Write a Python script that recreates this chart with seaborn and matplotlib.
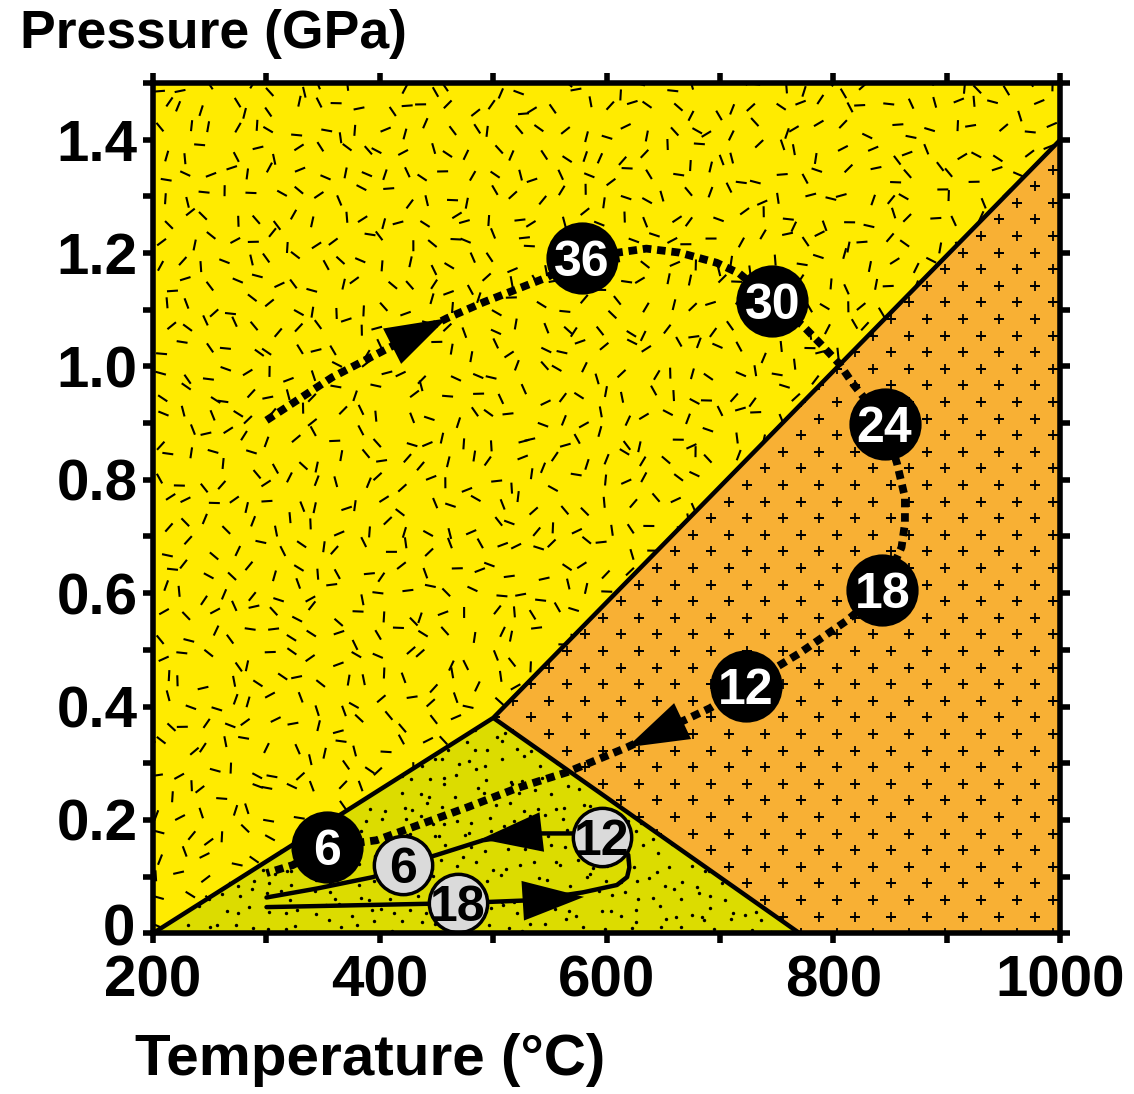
import numpy as np
import matplotlib
matplotlib.use('Agg')
import matplotlib.pyplot as plt
import matplotlib.transforms as mtrans
import seaborn as sns
from matplotlib.patches import Polygon
from matplotlib.collections import LineCollection

# ---- field polygons (T in degC, P in GPa) ----
yellow_T = [200, 500, 1000, 1000, 200]
yellow_P = [0, 0.38, 1.4, 1.5, 1.5]
orange_T = [500, 1000, 1000, 770]
orange_P = [0.38, 1.4, 0, 0]
green_T = [200, 500, 770]
green_P = [0, 0.38, 0]
bound1_T = [200, 500, 1000]
bound1_P = [0, 0.38, 1.4]
bound2_T = [500, 770]
bound2_P = [0.38, 0]

# ---- black (dashed) P-T path ----
black_T = [300, 358, 409, 459, 491, 547, 578, 635, 664, 697, 717, 746, 773, 790,
           805, 817, 845, 856, 863, 863, 860, 843, 812, 770, 723, 691, 618, 565,
           521, 477, 433, 397, 353, 323, 300]
black_P = [0.905, 0.981, 1.034, 1.085, 1.113, 1.157, 1.192, 1.208, 1.201, 1.183,
           1.164, 1.116, 1.072, 1.037, 1.005, 0.970, 0.899, 0.829, 0.769, 0.723,
           0.681, 0.605, 0.552, 0.494, 0.437, 0.397, 0.328, 0.284, 0.256, 0.222,
           0.190, 0.164, 0.152, 0.120, 0.106]
black_lab_T = [578, 746, 845, 843, 723, 353]
black_lab_P = [1.192, 1.116, 0.899, 0.605, 0.437, 0.152]
black_labels = ['36', '30', '24', '18', '12', '6']
black_arrow_tail = [(409, 1.034), (691, 0.397)]
black_arrow_tip = [(459, 1.085), (618, 0.328)]

# ---- grey (solid) P-T path ----
grey_T = [300, 469, 532, 579, 609, 618, 620, 619, 612, 596, 570, 532, 491, 450,
          420, 394, 345, 300]
grey_P = [0.046, 0.053, 0.058, 0.072, 0.085, 0.099, 0.116, 0.138, 0.153, 0.169,
          0.176, 0.176, 0.164, 0.138, 0.120, 0.099, 0.079, 0.063]
grey_lab_T = [420, 596, 469]
grey_lab_P = [0.120, 0.169, 0.053]
grey_labels = ['6', '12', '18']
grey_arrow_tail = [(532, 0.176), (532, 0.058)]
grey_arrow_tip = [(489, 0.166), (580, 0.064)]

x_ticks = [200, 400, 600, 800, 1000]
x_minor = [300, 500, 700, 900]
y_ticks = [0, 0.2, 0.4, 0.6, 0.8, 1.0, 1.2, 1.4]
y_labels = ['0', '0.2', '0.4', '0.6', '0.8', '1.0', '1.2', '1.4']
y_minor = [0.1, 0.3, 0.5, 0.7, 0.9, 1.1, 1.3, 1.5]

YELLOW = '#FFEB00'
ORANGE = '#F8B034'
GREEN = '#DCDC00'
GREY = '#DADADA'

sns.set_theme(style='ticks')
plt.rcParams['font.family'] = ['Liberation Sans', 'DejaVu Sans']
plt.rcParams['font.weight'] = 'bold'
plt.rcParams['text.color'] = 'black'
plt.rcParams['xtick.color'] = 'black'
plt.rcParams['ytick.color'] = 'black'
plt.rcParams['xtick.labelcolor'] = 'black'
plt.rcParams['ytick.labelcolor'] = 'black'

W, H, DPI = 11.34, 10.94, 100
fig = plt.figure(figsize=(W, H), dpi=DPI)
L, R, B, T = 0.135, 0.935, 0.147, 0.924
ax = fig.add_axes([L, B, R - L, T - B])
ax.set_xlim(200, 1000)
ax.set_ylim(0, 1.5)
ax_w = W * DPI * (R - L)
ax_h = H * DPI * (T - B)


def h01(a, b):
    v = np.sin(a * 12.9898 + b * 78.233) * 43758.5453
    return v - np.floor(v)


# filled fields
polys = {}
for name, tt, pp, col in [('yellow', yellow_T, yellow_P, YELLOW),
                          ('orange', orange_T, orange_P, ORANGE),
                          ('green', green_T, green_P, GREEN)]:
    poly = Polygon(np.column_stack([tt, pp]), closed=True, facecolor=col,
                   edgecolor='none', zorder=0)
    ax.add_patch(poly)
    polys[name] = poly

# texture: short dashes of any orientation in the yellow field
sp = 22.0
ii, jj = np.meshgrid(np.arange(-1, int(ax_w / sp) + 2), np.arange(-1, int(ax_h / sp) + 2))
ii = ii.ravel().astype(float)
jj = jj.ravel().astype(float)
cx = (ii + 0.5 + 0.8 * (h01(ii, jj) - 0.5)) * sp
cy = (jj + 0.5 + 0.8 * (h01(jj + 3.1, ii + 7.7) - 0.5)) * sp
ang = h01(ii * 1.7 + 2.3, jj * 0.9 + 5.1) * np.pi
ln = 5.5
segs = np.stack([np.column_stack([(cx - ln * np.cos(ang)) / ax_w, (cy - ln * np.sin(ang)) / ax_h]),
                 np.column_stack([(cx + ln * np.cos(ang)) / ax_w, (cy + ln * np.sin(ang)) / ax_h])], axis=1)
lc = LineCollection(segs, colors='black', linewidths=1.5, transform=ax.transAxes, zorder=1)
ax.add_collection(lc)
lc.set_clip_path(polys['yellow'])

# texture: dots in the green field
sp = 15.0
ii, jj = np.meshgrid(np.arange(0, int(ax_w / sp) + 1), np.arange(0, int(ax_h / sp) + 1))
ii = ii.ravel().astype(float)
jj = jj.ravel().astype(float)
dx = (ii + 0.5 + 0.9 * (h01(ii + 1.3, jj) - 0.5)) * sp / ax_w
dy = (jj + 0.5 + 0.9 * (h01(jj, ii + 4.4) - 0.5)) * sp / ax_h
dots = ax.scatter(dx, dy, s=6, c='black', linewidths=0, transform=ax.transAxes, zorder=1)
dots.set_clip_path(polys['green'])

# texture: plus signs in the orange field
rows = np.arange(0, int(ax_h / 16.6) + 2)
px, py = [], []
for r in rows:
    off = 18.0 if r % 2 else 0.0
    cols = np.arange(off, ax_w + 36, 36.0)
    px.extend(cols / ax_w)
    py.extend([r * 16.6 / ax_h] * len(cols))
plus = ax.scatter(px, py, s=42, marker='+', c='black', linewidths=1.3,
                  transform=ax.transAxes, zorder=1)
plus.set_clip_path(polys['orange'])

# field boundaries
ax.plot(bound1_T, bound1_P, color='black', lw=3.2, zorder=2, solid_capstyle='butt')
ax.plot(bound2_T, bound2_P, color='black', lw=3.2, zorder=2, solid_capstyle='butt')

# black dashed path
sns.lineplot(x=black_T, y=black_P, sort=False, color='black', lw=5.6, ax=ax, zorder=3,
             estimator=None)
ax.lines[-1].set_dashes((1.1, 0.75))
ax.lines[-1].set_dash_capstyle('butt')

# grey solid path
sns.lineplot(x=grey_T, y=grey_P, sort=False, color='black', lw=3.2, ax=ax, zorder=3,
             estimator=None)

# arrowheads
for tail, tip in list(zip(black_arrow_tail, black_arrow_tip)) + list(zip(grey_arrow_tail, grey_arrow_tip)):
    ax.annotate('', xy=tip, xytext=tail,
                arrowprops=dict(arrowstyle='-|>,head_length=1.7,head_width=0.55',
                                mutation_scale=26, color='black', lw=0,
                                shrinkA=0, shrinkB=0), zorder=4)

# labelled circles
ax.scatter(black_lab_T, black_lab_P, s=52 ** 2, c='black', linewidths=0, zorder=5)
for t, p, s in zip(black_lab_T, black_lab_P, black_labels):
    ax.text(t, p, s, color='white', fontsize=36, fontweight='bold', ha='center',
            va='center_baseline', zorder=6)
ax.scatter(grey_lab_T, grey_lab_P, s=42 ** 2, c=GREY, edgecolors='black',
           linewidths=2.5, zorder=5)
for t, p, s in zip(grey_lab_T, grey_lab_P, grey_labels):
    ax.text(t, p, s, color='black', fontsize=36, fontweight='bold', ha='center',
            va='center_baseline', zorder=6)

# axes styling
ax.set_xticks(x_ticks)
ax.set_xticklabels([str(v) for v in x_ticks])
ax.set_xticks(x_minor, minor=True)
ax.set_yticks(y_ticks)
ax.set_yticklabels(y_labels)
ax.set_yticks(y_minor, minor=True)
ax.tick_params(which='both', direction='out', length=7, width=4, top=True, right=True,
               labeltop=False, labelright=False, color='black')
ax.tick_params(axis='x', labelsize=42, pad=8, labelcolor='black')
ax.tick_params(axis='y', labelsize=42, pad=4, labelcolor='black')
for lab in ax.get_xticklabels() + ax.get_yticklabels():
    lab.set_fontweight('bold')
# nudge the "0" pressure label up a little so it clears "200"
zero_lab = ax.get_yticklabels()[0]
zero_lab.set_transform(zero_lab.get_transform()
                       + mtrans.ScaledTranslation(-2 / 72, 6 / 72, fig.dpi_scale_trans))
for sp_ in ax.spines.values():
    sp_.set_linewidth(4)
    sp_.set_color('black')
    sp_.set_zorder(10)
ax.set_xlabel('')
ax.set_ylabel('')
ax.grid(False)

fig.text(0.0176, 0.969, 'Pressure (GPa)', fontsize=38.5, fontweight='bold', ha='left',
         va='center', color='black')
fig.text(0.119, 0.031, 'Temperature (\u00b0C)', fontsize=42, fontweight='bold', ha='left',
         va='center', color='black')

fig.savefig('out.png', dpi=DPI)
